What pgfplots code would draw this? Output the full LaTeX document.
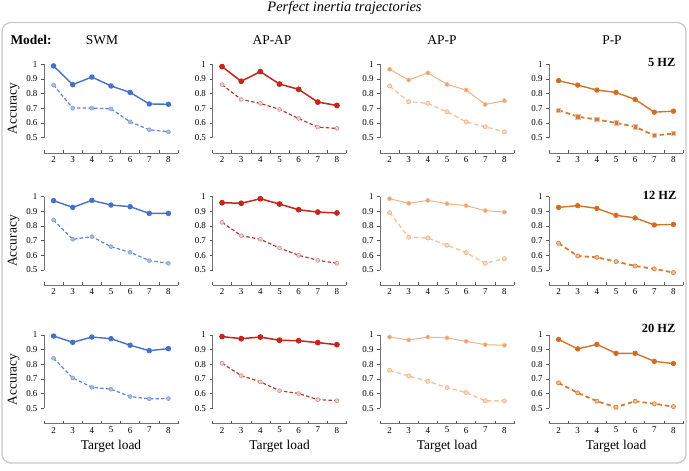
\documentclass[border=0pt]{standalone}
\usepackage{fontspec}
\setmainfont{Liberation Serif}
\usepackage{pgfplots}
\usepackage{pgfplotstable}
\pgfplotsset{compat=1.18}

\definecolor{swm}{RGB}{68,114,196}
\definecolor{swmd}{RGB}{92,132,212}
\definecolor{swmf}{RGB}{170,188,228}
\definecolor{apap}{RGB}{194,38,28}
\definecolor{apapd}{RGB}{176,62,50}
\definecolor{apapf}{RGB}{238,205,205}
\definecolor{app}{RGB}{240,178,130}
\definecolor{appm}{RGB}{234,160,112}
\definecolor{appd}{RGB}{246,196,156}
\definecolor{appf}{RGB}{248,218,196}
\definecolor{pp}{RGB}{212,116,40}
\definecolor{ppm}{RGB}{200,100,40}
\definecolor{ppd}{RGB}{214,124,52}
\definecolor{ppf}{RGB}{236,190,160}

\pgfplotstableread{
x swms swmd apaps apapd apps appd pps ppd
2 0.989 0.858 0.984 0.861 0.966 0.852 0.888 0.687
3 0.861 0.701 0.884 0.760 0.893 0.744 0.858 0.642
4 0.913 0.701 0.950 0.733 0.941 0.733 0.824 0.623
5 0.852 0.696 0.865 0.692 0.863 0.676 0.808 0.600
6 0.808 0.607 0.829 0.630 0.824 0.607 0.760 0.573
7 0.729 0.553 0.742 0.571 0.726 0.573 0.673 0.514
8 0.727 0.539 0.719 0.562 0.751 0.539 0.680 0.527
}\fivehz
\pgfplotstableread{
x swms swmd apaps apapd apps appd pps ppd
2 0.973 0.841 0.959 0.825 0.986 0.891 0.927 0.682
3 0.927 0.709 0.955 0.734 0.955 0.723 0.939 0.595
4 0.975 0.727 0.986 0.709 0.975 0.718 0.920 0.586
5 0.943 0.659 0.950 0.650 0.952 0.668 0.873 0.557
6 0.932 0.620 0.911 0.600 0.939 0.618 0.855 0.527
7 0.886 0.564 0.895 0.566 0.905 0.545 0.807 0.507
8 0.886 0.545 0.889 0.545 0.895 0.577 0.811 0.482
}\twelvehz
\pgfplotstableread{
x swms swmd apaps apapd apps appd pps ppd
2 0.993 0.841 0.989 0.807 0.986 0.759 0.970 0.673
3 0.950 0.707 0.975 0.723 0.966 0.720 0.905 0.605
4 0.986 0.643 0.986 0.680 0.986 0.684 0.936 0.548
5 0.975 0.630 0.964 0.620 0.980 0.641 0.875 0.507
6 0.930 0.580 0.961 0.600 0.957 0.607 0.875 0.548
7 0.893 0.564 0.948 0.559 0.934 0.550 0.820 0.530
8 0.907 0.566 0.934 0.552 0.930 0.550 0.805 0.511
}\twentyhz

\pgfplotsset{
 panel/.style={
   scale only axis, width=134bp, height=88.6bp,
   xmin=1.5, xmax=8.5, ymin=0.395, ymax=1,
   axis x line*=bottom, axis y line*=left,
   xtick={1.5,2.5,...,8.5}, xticklabels={2,3,4,5,6,7,8}, x tick label as interval,
   ytick={0.5,0.6,0.7,0.8,0.9,1},
   xtick align=inside, ytick align=outside,
   major tick length=3bp,
   tick style={black!65, line width=0.5bp},
   axis line style={black!55, line width=0.7bp},
   y axis line style={shorten <=15.4bp},
   tick label style={font=\fontsize{9}{10}\selectfont},
   /pgf/number format/assume math mode=true,
   clip=false,
   anchor=north west,
   label style={font=\fontsize{13.5}{15}\selectfont},
 },
 swmS/.style={swm, line width=1.4bp, mark=*, mark size=2bp, mark options={fill=swm, draw=swm}},
 swmD/.style={swmd, line width=1.2bp, dash pattern=on 3.5bp off 2.2bp, mark=*, mark size=2bp, mark options={solid, fill=swmf, draw=swmd!80, line width=0.5bp}},
 apapS/.style={apap, line width=1.5bp, mark=*, mark size=2.1bp, mark options={fill=apap, draw=apap}},
 apapD/.style={apapd, line width=1.2bp, dash pattern=on 3.5bp off 2.2bp, mark=*, mark size=2bp, mark options={solid, fill=apapf, draw=apapd!60, line width=0.5bp}},
 appS/.style={app, line width=1.0bp, mark=*, mark size=2.1bp, mark options={fill=appm, draw=appd, line width=0.6bp}},
 appD/.style={appd, line width=1.4bp, dash pattern=on 4.5bp off 2.8bp, mark=*, mark size=2.1bp, mark options={solid, fill=appf, draw=app, line width=0.6bp}},
 ppS/.style={pp, line width=1.4bp, mark=*, mark size=2bp, mark options={fill=ppm, draw=pp}},
 ppD/.style={ppd, line width=1.8bp, dash pattern=on 4.5bp off 3bp, mark=*, mark size=2.1bp, mark options={solid, fill=ppf, draw=ppd, line width=0.6bp}},
 ppDsq/.style={ppd, line width=1.8bp, dash pattern=on 4.5bp off 3bp, mark=square*, mark size=2.1bp, mark options={solid, fill=ppm!85, draw=ppf, line width=0.6bp}},
}

\begin{document}
\begin{tikzpicture}
\useasboundingbox (0,0) rectangle (689bp,471bp);
\draw[rounded corners=9bp, draw=black!22, line width=1.3bp] (2bp,8bp) rectangle (686bp,448.5bp);
\node[font=\itshape\fontsize{14.5}{16}\selectfont] at (344.5bp,463bp) {Perfect inertia trajectories};
\node[anchor=west, font=\bfseries\fontsize{13.5}{15}\selectfont] at (7bp,431bp) {Model:};
\node[font=\fontsize{13.5}{15}\selectfont] at (102bp,431bp) {SWM};
\node[font=\fontsize{13.5}{15}\selectfont] at (272bp,431bp) {AP-AP};
\node[font=\fontsize{13.5}{15}\selectfont] at (442bp,431bp) {AP-P};
\node[font=\fontsize{13.5}{15}\selectfont] at (612bp,431bp) {P-P};
\node[anchor=east, font=\bfseries\fontsize{12.5}{14}\selectfont] at (679bp,408.5bp) {5 HZ};
\node[anchor=east, font=\bfseries\fontsize{12.5}{14}\selectfont] at (680bp,276bp) {12 HZ};
\node[anchor=east, font=\bfseries\fontsize{12.5}{14}\selectfont] at (679bp,143bp) {20 HZ};

% Row 1: 5 Hz
\begin{axis}[panel, at={(44bp,406.7bp)}, ylabel={Accuracy}]
\addplot[swmD] table[x=x,y=swmd]{\fivehz};
\addplot[swmS] table[x=x,y=swms]{\fivehz};
\end{axis}
\begin{axis}[panel, at={(212.5bp,406.7bp)}]
\addplot[apapD] table[x=x,y=apapd]{\fivehz};
\addplot[apapS] table[x=x,y=apaps]{\fivehz};
\end{axis}
\begin{axis}[panel, at={(380bp,406.7bp)}]
\addplot[appD] table[x=x,y=appd]{\fivehz};
\addplot[appS] table[x=x,y=apps]{\fivehz};
\end{axis}
\begin{axis}[panel, at={(549bp,406.7bp)}]
\addplot[ppDsq] table[x=x,y=ppd]{\fivehz};
\addplot[ppS] table[x=x,y=pps]{\fivehz};
\end{axis}

% Row 2: 12 Hz
\begin{axis}[panel, at={(44bp,274.3bp)}, ylabel={Accuracy}]
\addplot[swmD] table[x=x,y=swmd]{\twelvehz};
\addplot[swmS] table[x=x,y=swms]{\twelvehz};
\end{axis}
\begin{axis}[panel, at={(212.5bp,274.3bp)}]
\addplot[apapD] table[x=x,y=apapd]{\twelvehz};
\addplot[apapS] table[x=x,y=apaps]{\twelvehz};
\end{axis}
\begin{axis}[panel, at={(380bp,274.3bp)}]
\addplot[appD] table[x=x,y=appd]{\twelvehz};
\addplot[appS] table[x=x,y=apps]{\twelvehz};
\end{axis}
\begin{axis}[panel, at={(549bp,274.3bp)}]
\addplot[ppD] table[x=x,y=ppd]{\twelvehz};
\addplot[ppS] table[x=x,y=pps]{\twelvehz};
\end{axis}

% Row 3: 20 Hz
\begin{axis}[panel, at={(44bp,136bp)}, ylabel={Accuracy}, xlabel={Target load}]
\addplot[swmD] table[x=x,y=swmd]{\twentyhz};
\addplot[swmS] table[x=x,y=swms]{\twentyhz};
\end{axis}
\begin{axis}[panel, at={(212.5bp,136bp)}, xlabel={Target load}]
\addplot[apapD] table[x=x,y=apapd]{\twentyhz};
\addplot[apapS] table[x=x,y=apaps]{\twentyhz};
\end{axis}
\begin{axis}[panel, at={(380bp,136bp)}, xlabel={Target load}]
\addplot[appD] table[x=x,y=appd]{\twentyhz};
\addplot[appS] table[x=x,y=apps]{\twentyhz};
\end{axis}
\begin{axis}[panel, at={(549bp,136bp)}, xlabel={Target load}]
\addplot[ppD] table[x=x,y=ppd]{\twentyhz};
\addplot[ppS] table[x=x,y=pps]{\twentyhz};
\end{axis}
\end{tikzpicture}
\end{document}
